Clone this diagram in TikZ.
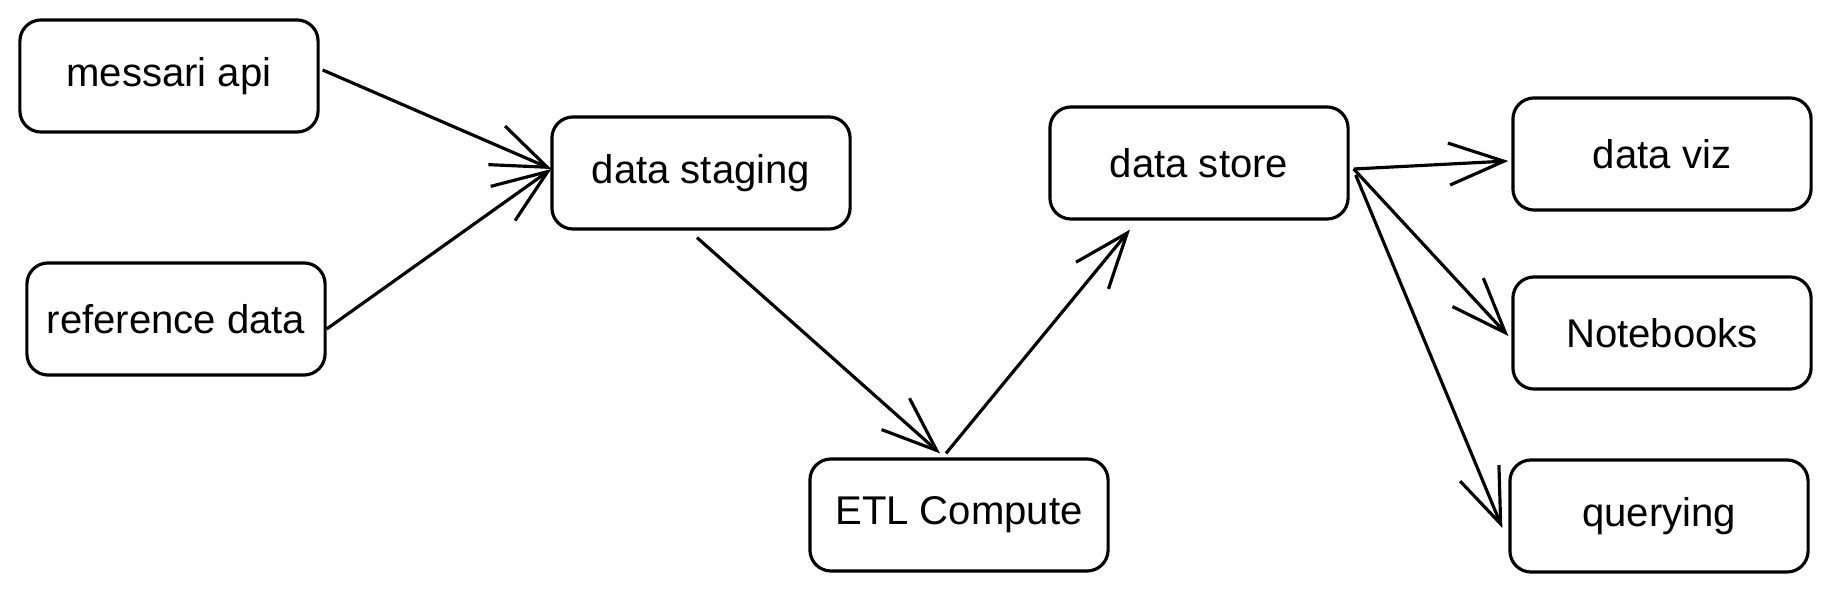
\documentclass[tikz,border=0pt]{standalone}
\usepackage{fontspec}
\setmainfont{Liberation Sans}
\usepackage{tikz}
\usetikzlibrary{arrows.meta,calc,positioning}
\tikzset{
  sketchbox/.style={draw=black,line width=0.9pt,rounded corners=6pt,minimum width=2.98cm,minimum height=1.12cm,align=center,inner sep=2pt,font=\fontsize{11.4}{13}\selectfont},
  flow/.style={-{Straight Barb[length=0.55cm,width=0.42cm,line width=0.9pt]},line width=0.9pt,black}
}
\begin{document}
\begin{tikzpicture}[x=0.01cm,y=-0.01cm]
\useasboundingbox (0,0) rectangle (1831,592);
\node[sketchbox] (messari) at (169,76) {messari api};
\node[sketchbox] (refdata) at (176,319) {reference data};
\node[sketchbox] (staging) at (701,173) {data staging};
\node[sketchbox] (etl) at (959,515) {ETL Compute};
\node[sketchbox] (store) at (1199,163) {data store};
\node[sketchbox] (viz) at (1662,154) {data viz};
\node[sketchbox] (notebooks) at (1662,333) {Notebooks};
\node[sketchbox] (querying) at (1659,516) {querying};
% sources into staging
\draw[flow] ($(messari.east)+(3,-6)$) -- ($(staging.west)+(1,-4)$);
\draw[flow] ($(refdata.east)+(0,10)$) -- ($(staging.west)+(1,-4)$);
% staging -> compute -> store
\draw[flow] ($(staging.south)+(-4,7)$) -- ($(etl.north)+(-19,-4)$);
\draw[flow] ($(etl.north)+(-13,-4)$) -- ($(store.south)+(-69,9)$);
% consumers
\draw[flow] ($(store.east)+(4,6)$) -- ($(viz.west)+(-3,7)$);
\draw[flow] ($(store.east)+(4,6)$) -- ($(notebooks.west)+(-3,3)$);
\draw[flow] ($(store.east)+(6,12)$) -- ($(querying.west)+(-6,12)$);
\end{tikzpicture}
\end{document}
